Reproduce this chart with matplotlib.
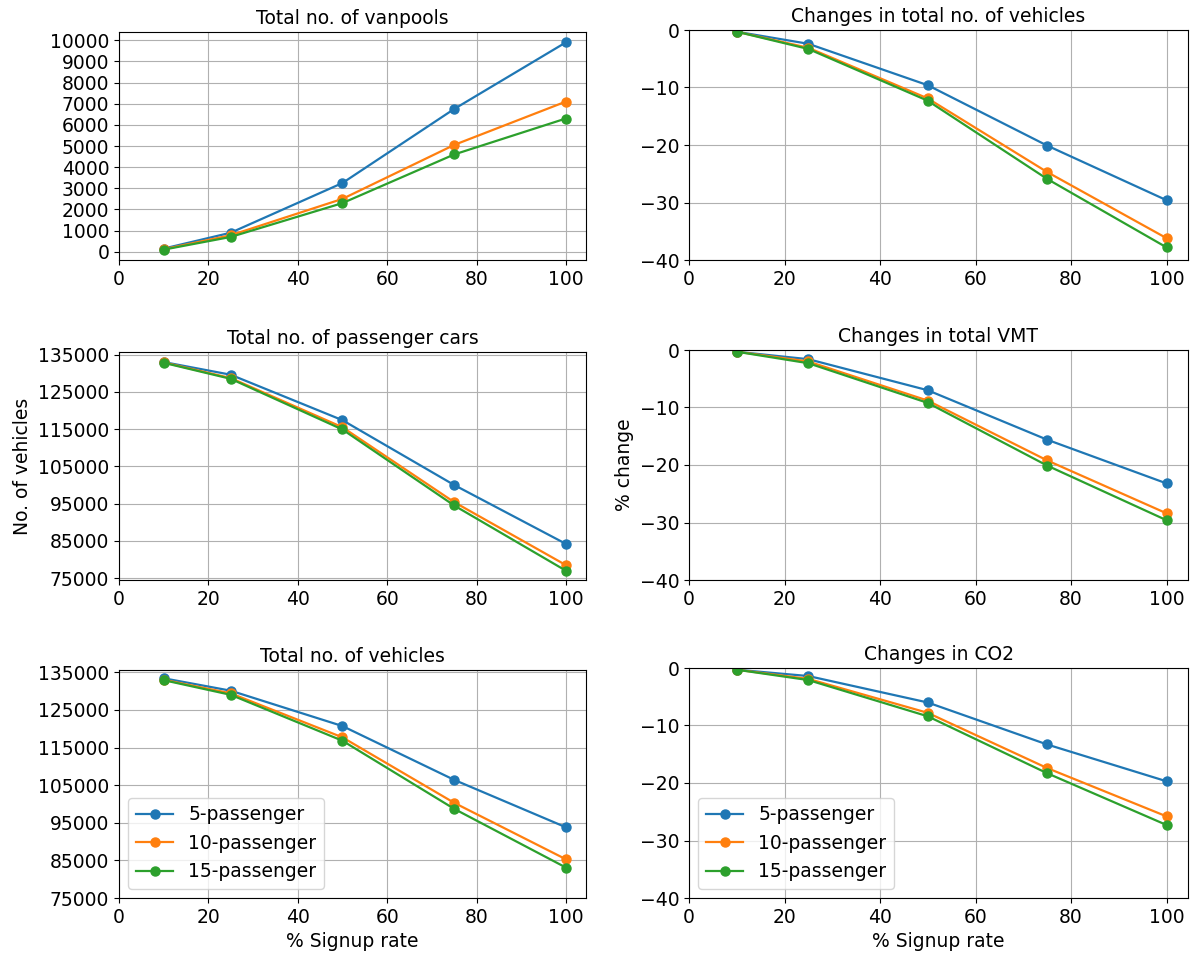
import matplotlib
matplotlib.use('Agg')
import matplotlib.pyplot as plt
import numpy as np

# signup rate (%)
signup = [10, 25, 50, 75, 100]
labels = ['5-passenger', '10-passenger', '15-passenger']

# total no. of vanpools
vanpools_5 = [150, 900, 3250, 6750, 9900]
vanpools_10 = [120, 780, 2500, 5050, 7100]
vanpools_15 = [100, 700, 2300, 4600, 6300]

# changes in total no. of vehicles (%)
dveh_5 = [-0.3, -2.4, -9.6, -20.1, -29.6]
dveh_10 = [-0.3, -3.1, -11.9, -24.7, -36.2]
dveh_15 = [-0.3, -3.3, -12.3, -25.9, -37.8]

# total no. of passenger cars
cars_5 = [133000, 129600, 117400, 100000, 84200]
cars_10 = [132900, 128700, 115500, 95400, 78500]
cars_15 = [132800, 128500, 114900, 94500, 77000]

# changes in total VMT (%)
dvmt_5 = [-0.3, -1.6, -7.0, -15.6, -23.2]
dvmt_10 = [-0.3, -2.0, -8.8, -19.2, -28.4]
dvmt_15 = [-0.3, -2.3, -9.2, -20.1, -29.6]

# total no. of vehicles
veh_5 = [133400, 130100, 120700, 106400, 93800]
veh_10 = [133000, 129400, 117700, 100300, 85300]
veh_15 = [132900, 129000, 116800, 98700, 83100]

# changes in CO2 (%)
dco2_5 = [-0.3, -1.4, -6.0, -13.3, -19.7]
dco2_10 = [-0.3, -1.9, -7.8, -17.4, -25.8]
dco2_15 = [-0.3, -2.1, -8.4, -18.3, -27.3]

plt.rcParams['font.size'] = 13.5

fig = plt.figure(figsize=(11.92, 9.55), dpi=100)
W, H = 1192.0, 955.0

def make_ax(x0, w, top, bottom):
    return fig.add_axes([x0 / W, 1 - bottom / H, w / W, (bottom - top) / H])

ax1 = make_ax(119, 467, 32, 260)
ax2 = make_ax(689, 499, 30, 260)
ax3 = make_ax(119, 467, 352, 580)
ax4 = make_ax(689, 499, 350, 580)
ax5 = make_ax(119, 467, 670, 898)
ax6 = make_ax(689, 499, 668, 898)

def draw(ax, series, title):
    for s, lab in zip(series, labels):
        ax.plot(signup, s, marker='o', markersize=6.5, linewidth=1.6, label=lab)
    ax.set_title(title, fontsize=13.5)
    ax.grid(True, color='#b0b0b0', linewidth=0.8)
    ax.set_xlim(0, 104.5)
    ax.set_xticks([0, 20, 40, 60, 80, 100])

draw(ax1, [vanpools_5, vanpools_10, vanpools_15], 'Total no. of vanpools')
ax1.set_yticks(np.arange(0, 10001, 1000))
ax1.set_ylim(-390, 10390)

draw(ax2, [dveh_5, dveh_10, dveh_15], 'Changes in total no. of vehicles')
ax2.set_ylim(-40, 0)
ax2.set_yticks([-40, -30, -20, -10, 0])

draw(ax3, [cars_5, cars_10, cars_15], 'Total no. of passenger cars')
ax3.set_yticks(np.arange(75000, 135001, 10000))
ax3.set_ylim(74500, 135700)
ax3.set_ylabel('No. of vehicles')

draw(ax4, [dvmt_5, dvmt_10, dvmt_15], 'Changes in total VMT')
ax4.set_ylim(-40, 0)
ax4.set_yticks([-40, -30, -20, -10, 0])
ax4.set_ylabel('% change')

draw(ax5, [veh_5, veh_10, veh_15], 'Total no. of vehicles')
ax5.set_yticks(np.arange(75000, 135001, 10000))
ax5.set_ylim(75000, 135600)
ax5.set_xlabel('% Signup rate')
ax5.legend(loc='lower left')

draw(ax6, [dco2_5, dco2_10, dco2_15], 'Changes in CO2')
ax6.set_ylim(-40, 0)
ax6.set_yticks([-40, -30, -20, -10, 0])
ax6.set_xlabel('% Signup rate')
ax6.legend(loc='lower left')

fig.savefig('out.png', dpi=100)
